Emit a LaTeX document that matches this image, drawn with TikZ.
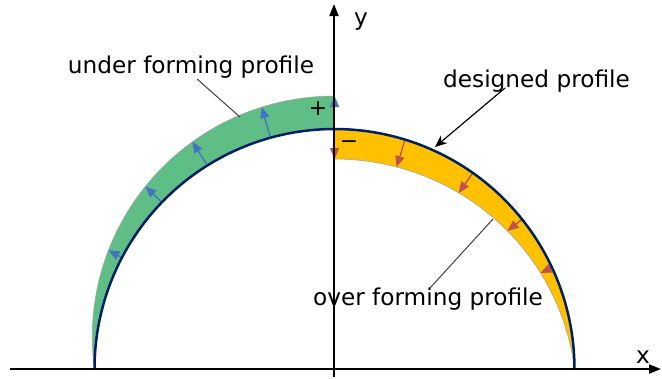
\documentclass[tikz,border=0pt]{standalone}
\usepackage{fontspec}
\setmainfont{DejaVu Sans}
\usetikzlibrary{arrows.meta}
\definecolor{bandgreen}{RGB}{95,190,134}
\definecolor{bandyellow}{RGB}{255,192,0}
\definecolor{arrblue}{RGB}{68,114,196}
\definecolor{arrred}{RGB}{192,80,77}
\definecolor{navy}{RGB}{0,32,96}
\tikzset{
  lbl/.style={font=\fontsize{23.3}{26}\selectfont, inner sep=0pt, anchor=base},
  sgn/.style={font=\fontsize{22}{24}\selectfont, inner sep=0pt},
  axis/.style={line width=2bp, -{Triangle[length=12bp,width=9bp]}},
  uparr/.style={arrblue, line width=1.3bp, -{Triangle[length=11bp,width=9bp]}},
  dnarr/.style={arrred, line width=1.3bp, -{Triangle[length=11bp,width=9bp]}},
  leader/.style={black!75, line width=1bp},
  band/.style={draw=black!35, line width=0.6bp}
}
\begin{document}
\begin{tikzpicture}[x=1bp,y=-1bp]
\useasboundingbox (0,0) rectangle (662,378);
\def\cx{334.5}\def\cy{369}\def\R{240}
% green band (under forming)
\fill[bandgreen] plot[domain=180:90,samples=60,smooth] ({\cx+(\R+33*sin(\x))*cos(\x)},{\cy-(\R+33*sin(\x))*sin(\x)})
  -- plot[domain=90:180,samples=60,smooth] ({\cx+\R*cos(\x)},{\cy-\R*sin(\x)}) -- cycle;
\draw[band] plot[domain=180:90,samples=60,smooth] ({\cx+(\R+33*sin(\x))*cos(\x)},{\cy-(\R+33*sin(\x))*sin(\x)});
% yellow band (over forming)
\fill[bandyellow] plot[domain=90:0,samples=60,smooth] ({\cx+\R*cos(\x)},{\cy-\R*sin(\x)})
  -- plot[domain=0:90,samples=60,smooth] ({\cx+(\R-30*sin(\x))*cos(\x)},{\cy-(\R-30*sin(\x))*sin(\x)}) -- cycle;
\draw[band] plot[domain=0:90,samples=60,smooth] ({\cx+(\R-30*sin(\x))*cos(\x)},{\cy-(\R-30*sin(\x))*sin(\x)});
% blue arrows
\foreach \a in {152.3,136,122,105.5,90}{
  \coordinate (bs) at ({\cx+\R*cos(\a)},{\cy-\R*sin(\a)});
  \coordinate (be) at ({\cx+(\R+33*sin(\a))*cos(\a)},{\cy-(\R+33*sin(\a))*sin(\a)});
  \draw[uparr] (bs) -- (be);
}
% red arrows
\foreach \a in {25,38.6,54.8,72.9,90}{
  \coordinate (rs) at ({\cx+\R*cos(\a)},{\cy-\R*sin(\a)});
  \coordinate (re) at ({\cx+(\R-30*sin(\a))*cos(\a)},{\cy-(\R-30*sin(\a))*sin(\a)});
  \draw[dnarr] (rs) -- (re);
}
% designed profile
\draw[navy, line width=2.5bp] plot[domain=180:0,samples=100,smooth] ({\cx+\R*cos(\x)},{\cy-\R*sin(\x)});
% axes
\coordinate (xs) at (10,369); \coordinate (xe) at (661,369);
\coordinate (ys) at (334,377); \coordinate (ye) at (334,4);
\draw[axis] (xs) -- (xe);
\draw[axis] (ys) -- (ye);
\node[lbl] (ylab) at (361,25.5) {y};
\node[lbl] (xlab) at (643,363) {x};
% signs
\node[sgn] (plus) at (318,109) {+};
\node[sgn] (minus) at (349,145) {−};
% labels
\node[lbl] (uf) at (191,73) {under forming profile};
\node[lbl] (dp) at (536.5,87) {designed profile};
\node[lbl] (of) at (428,305) {over forming profile};
\coordinate (ufend) at (240,117);
\coordinate (ufstart) at (197,79);
\draw[leader] (ufstart) -- (ufend);
\coordinate (dpstart) at (505,88);
\coordinate (dpend) at (435,147);
\draw[black, line width=1.2bp, -{Stealth[length=12bp,width=10bp]}] (dpstart) -- (dpend);
\coordinate (ofstart) at (430,288);
\coordinate (ofend) at (493,219);
\draw[leader] (ofstart) -- (ofend);
\end{tikzpicture}
\end{document}
